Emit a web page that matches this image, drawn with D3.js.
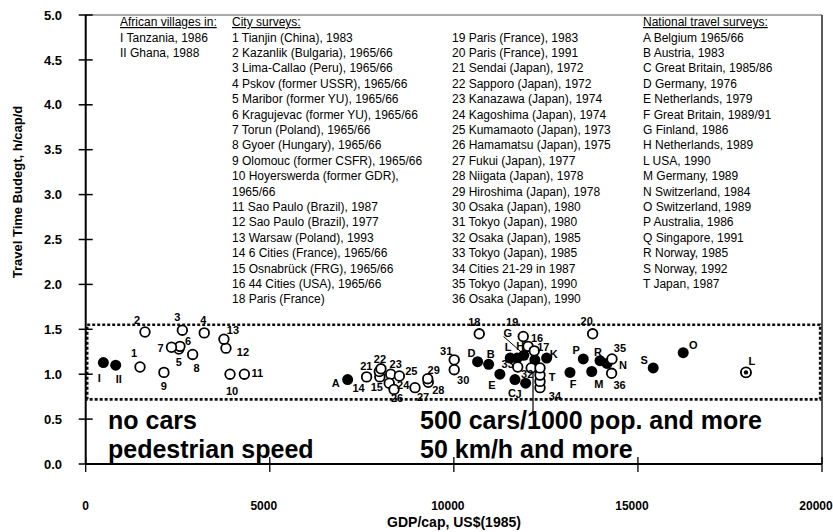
<!DOCTYPE html>
<html>
<head>
<meta charset="utf-8">
<script src="https://cdn.jsdelivr.net/npm/d3@7"></script>
<style>
  body { margin: 0; background: #fff; }
  svg text { font-family: "Liberation Sans", Arial, sans-serif; fill: #000; }
</style>
</head>
<body>
<svg id="chart" width="833" height="532"></svg>
<script>
// ---- data ----
var villageNotes = ["I Tanzania, 1986", "II Ghana, 1988"];
var cityNotes = ["1 Tianjin (China), 1983", "2 Kazanlik (Bulgaria), 1965/66", "3 Lima-Callao (Peru), 1965/66",
  "4 Pskov (former USSR), 1965/66", "5 Maribor (former YU), 1965/66", "6 Kragujevac (former YU), 1965/66",
  "7 Torun (Poland), 1965/66", "8 Gyoer (Hungary), 1965/66", "9 Olomouc (former CSFR), 1965/66",
  "10 Hoyerswerda (former GDR),", "1965/66", "11 Sao Paulo (Brazil), 1987", "12 Sao Paulo (Brazil), 1977",
  "13 Warsaw (Poland), 1993", "14 6 Cities (France), 1965/66", "15 Osnabrück (FRG), 1965/66",
  "16 44 Cities (USA), 1965/66", "18 Paris (France)"];
var cityNotes2 = ["19 Paris (France), 1983", "20 Paris (France), 1991", "21 Sendai (Japan), 1972",
  "22 Sapporo (Japan), 1972", "23 Kanazawa (Japan), 1974", "24 Kagoshima (Japan), 1974",
  "25 Kumamaoto (Japan), 1973", "26 Hamamatsu (Japan), 1975", "27 Fukui (Japan), 1977",
  "28 Niigata (Japan), 1978", "29 Hiroshima (Japan), 1978", "30 Osaka (Japan), 1980",
  "31 Tokyo (Japan), 1980", "32 Osaka (Japan), 1985", "33 Tokyo (Japan), 1985",
  "34 Cities 21-29 in 1987", "35 Tokyo (Japan), 1990", "36 Osaka (Japan), 1990"];
var nationalNotes = ["A Belgium 1965/66", "B Austria, 1983", "C Great Britain, 1985/86", "D Germany, 1976",
  "E Netherlands, 1979", "F Great Britain, 1989/91", "G Finland, 1986", "H Netherlands, 1989",
  "L USA, 1990", "M Germany, 1989", "N Switzerland, 1984", "O Switzerland, 1989", "P Australia, 1986",
  "Q Singapore, 1991", "R Norway, 1985", "S Norway, 1992", "T Japan, 1987"];

var xTicks = [0, 5000, 10000, 15000, 20000];
var yTicks = [0, 0.5, 1, 1.5, 2, 2.5, 3, 3.5, 4, 4.5, 5];

// village points (filled)
var villageIds = ["I", "II"];
var villageGdp = [480, 815];
var villageTtb = [1.13, 1.10];

// city surveys (open circles)
var cityIds = ["1","2","3","4","5","6","7","8","9","10","11","12","13","14","15","16","17","18","19","20",
  "21","22","23","24","25","26","27","28","29","30","31","32","33","34","34","34","34","35","36"];
var cityGdp = [1475,1610,2625,3220,2530,2560,2330,2905,2125,3920,4310,3810,3755,7630,7990,12015,12185,10690,11885,13770,
  7975,8020,8285,8245,8520,8375,8945,9305,9290,10010,10010,12100,11735,12340,12340,12340,12340,14295,14285];
var cityTtb = [1.08,1.47,1.49,1.46,1.28,1.31,1.30,1.22,1.02,1.00,1.00,1.29,1.39,0.97,0.97,1.31,1.26,1.45,1.42,1.45,
  1.03,1.06,1.00,0.90,0.98,0.83,0.85,0.91,0.95,1.05,1.16,1.07,1.08,0.85,0.92,0.99,1.07,1.17,1.01];

// national travel surveys (filled)
var nationalIds = ["A","B","C","D","E","F","G","H","L","J","K","M","N","O","P","Q","R","S","T","L"];
var nationalGdp = [7115,10945,11660,10645,11250,13155,11900,11720,11530,11950,12520,13745,14160,16230,13515,12200,13970,15415,12150,17935];
var nationalTtb = [0.94,1.11,0.94,1.14,1.00,1.02,1.21,1.18,1.18,0.90,1.18,1.03,1.12,1.24,1.17,1.16,1.15,1.07,1.08,1.02];

// dotted zone
var zoneLow = 0.72, zoneHigh = 1.55;

// ---- layout ----
var villageOffsets = [[-4,16],[3,14]];
var cityOffsets = [[-6,-14],[-8,-12],[-5,-13],[-1,-13],[0,13],[8,-5],[-11,1],[4,14],[0,14],[2,17],[13,-1],[17,4],[9,-9],
  [-8,11],[-3,10],[9,-8],[9,-4],[-5,-12],[-11,-14],[-6,-13],
  [-13,-5],[-1,-10],[5,-10],[14,2],[12,-5],[3,9],[8,9],[10,8],[6,-9],[9,10],[-8,-9],[-4,6],[-10,-3],
  [15,8],null,null,null,[8,-11],[8,12]];
var nationalOffsets = [[-12,3],[2,-10],[-3,13],[-6,-9],[-8,11],[3,12],[-16,-22],[3,-12],[-2,-11],[-7,11],[7,-4],
  [7,13],[16,2],[10,-8],[-7,-9],null,[-2,-9],[-9,-8],[19,10],[6,-11]];

var svg = d3.select("#chart");
var x = d3.scaleLinear().domain([0, 20000]).range([85.7, 822]);
var y = d3.scaleLinear().domain([0, 5]).range([464, 15]);

// frame
svg.append("line").attr("x1", x(0)).attr("x2", x(20000)).attr("y1", y(5)).attr("y2", y(5))
  .attr("stroke", "#555").attr("stroke-width", 1.2);
svg.append("line").attr("x1", x(20000)).attr("x2", x(20000)).attr("y1", y(5)).attr("y2", y(0))
  .attr("stroke", "#222").attr("stroke-width", 1.5);

svg.append("rect")
  .attr("x", x(0) + 1.5).attr("y", y(zoneHigh))
  .attr("width", x(19950) - x(0) - 1.5).attr("height", y(zoneLow) - y(zoneHigh))
  .attr("fill", "none").attr("stroke", "#111").attr("stroke-width", 2.6)
  .attr("stroke-dasharray", "3,2");

// axes
var yAxis = svg.append("g");
yAxis.append("line").attr("x1", x(0)).attr("x2", x(0)).attr("y1", y(5)).attr("y2", y(0))
  .attr("stroke", "#000").attr("stroke-width", 2);
yAxis.selectAll(".yt").data(yTicks).enter().append("line")
  .attr("x1", x(0) - 7).attr("x2", x(0) + 7)
  .attr("y1", function(d) { return y(d); }).attr("y2", function(d) { return y(d); })
  .attr("stroke", "#000").attr("stroke-width", 1.5);
yAxis.selectAll("text").data(yTicks).enter().append("text")
  .attr("x", 62).attr("y", function(d) { return y(d); }).attr("dy", "0.36em")
  .attr("text-anchor", "end").attr("font-weight", "bold").attr("font-size", 13)
  .text(function(d) { return d3.format(".1f")(d); });

var xAxis = svg.append("g");
xAxis.append("line").attr("x1", x(0)).attr("x2", x(20000)).attr("y1", y(0)).attr("y2", y(0))
  .attr("stroke", "#000").attr("stroke-width", 2);
xAxis.selectAll(".xt").data(xTicks).enter().append("line")
  .attr("x1", function(d) { return x(d); }).attr("x2", function(d) { return x(d); })
  .attr("y1", y(0) - 7).attr("y2", y(0) + 8)
  .attr("stroke", "#000").attr("stroke-width", 1.3);
xAxis.selectAll("text").data(xTicks).enter().append("text")
  .attr("x", function(d) { return d === 0 ? x(d) : x(d) - 6; }).attr("y", 510)
  .attr("text-anchor", "middle").attr("font-weight", "bold").attr("font-size", 12)
  .text(function(d) { return d; });

svg.append("text").attr("x", 454).attr("y", 527).attr("text-anchor", "middle")
  .attr("font-weight", "bold").attr("font-size", 14).text("GDP/cap, US$(1985)");
svg.append("text").attr("transform", "translate(22,192) rotate(-90)").attr("text-anchor", "middle")
  .attr("font-weight", "bold").attr("font-size", 13).text("Travel Time Budegt, h/cap/d");

// legend columns
function column(x0, title, lines) {
  var g = svg.append("g").attr("font-size", 12);
  if (title) {
    g.append("text").attr("x", x0).attr("y", 26).attr("text-decoration", "underline").text(title);
  }
  g.selectAll(".ln").data(lines).enter().append("text")
    .attr("x", x0).attr("y", function(d, i) { return 41.5 + i * 15.4; })
    .text(function(d) { return d; });
}
column(120, "African villages in:", villageNotes);
column(232, "City surveys:", cityNotes);
column(452, null, cityNotes2);
column(643, "National travel surveys:", nationalNotes);

// leader lines
svg.append("line").attr("x1", x(12150)).attr("x2", x(12150)).attr("y1", y(1.20)).attr("y2", y(0.58))
  .attr("stroke", "#000").attr("stroke-width", 1.2);
svg.append("line").attr("x1", x(11350)).attr("x2", x(11850)).attr("y1", y(1.42)).attr("y2", y(1.24))
  .attr("stroke", "#000").attr("stroke-width", 1);

// points
function pts(ids, gdp, ttb) {
  return ids.map(function(id, i) { return { id: id, gdp: gdp[i], ttb: ttb[i] }; });
}
var villages = pts(villageIds, villageGdp, villageTtb);
var cities = pts(cityIds, cityGdp, cityTtb);
var nationals = pts(nationalIds, nationalGdp, nationalTtb);

svg.append("g").selectAll("circle").data(villages.concat(nationals)).enter().append("circle")
  .attr("cx", function(d) { return x(d.gdp); }).attr("cy", function(d) { return y(d.ttb); })
  .attr("r", 5.5).attr("fill", "#000");

svg.append("g").selectAll("circle").data(cities).enter().append("circle")
  .attr("cx", function(d) { return x(d.gdp); }).attr("cy", function(d) { return y(d.ttb); })
  .attr("r", 4.8).attr("fill", "#fff").attr("stroke", "#000").attr("stroke-width", 1.8);

// USA 1990 point has a ring marker
var usa = nationals[nationals.length - 1];
svg.append("circle").attr("cx", x(usa.gdp)).attr("cy", y(usa.ttb)).attr("r", 5)
  .attr("fill", "#fff").attr("stroke", "#000").attr("stroke-width", 1.8);
svg.append("circle").attr("cx", x(usa.gdp)).attr("cy", y(usa.ttb)).attr("r", 2.2).attr("fill", "#000");

function labels(data, offsets) {
  svg.append("g").selectAll("text").data(data.filter(function(d, i) { d.off = offsets[i]; return offsets[i]; }))
    .enter().append("text")
    .attr("x", function(d) { return x(d.gdp) + d.off[0]; })
    .attr("y", function(d) { return y(d.ttb) + d.off[1]; })
    .attr("dy", "0.36em").attr("text-anchor", "middle")
    .attr("font-weight", "bold").attr("font-size", 11)
    .text(function(d) { return d.id; });
}
labels(villages, villageOffsets);
labels(cities, cityOffsets);
labels(nationals, nationalOffsets);

// zone annotations
var notes = svg.append("g").attr("font-weight", "bold").attr("font-size", 25);
notes.append("text").attr("x", 108).attr("y", 429).text("no cars");
notes.append("text").attr("x", 108).attr("y", 458).text("pedestrian speed");
notes.append("text").attr("x", 420).attr("y", 429).text("500 cars/1000 pop. and more");
notes.append("text").attr("x", 420).attr("y", 458).text("50 km/h and more");
</script>
</body>
</html>
